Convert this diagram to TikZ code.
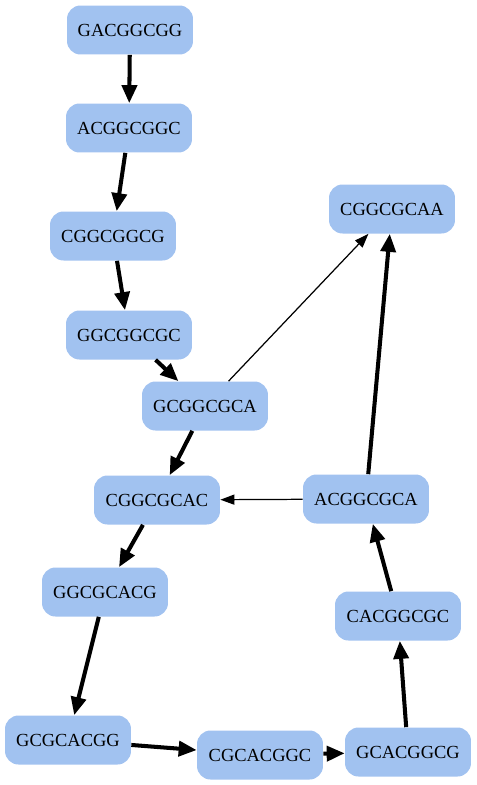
\documentclass[tikz,border=0pt]{standalone}
\usepackage{fontspec}
\setmainfont{Liberation Serif}
\usetikzlibrary{arrows.meta}
\definecolor{kmerblue}{RGB}{161,194,240}

\begin{document}
\begin{tikzpicture}[
        x=0.02cm, y=-0.02cm,
        kmer/.style={rectangle, rounded corners=0.27cm, fill=kmerblue, minimum width=2.52cm, minimum height=0.98cm, inner sep=0pt, font=\fontsize{10.5}{12}\selectfont},
        edge/.style={-{Triangle[length=0.36cm, width=0.3cm]}, line width=2.3pt},
        weak/.style={-{Triangle[length=0.28cm, width=0.2cm]}, line width=0.7pt}
    ]
        \useasboundingbox (0,0) rectangle (477,785);

        % Left chain
        \node[kmer] (n1) at (130,30) {GACGGCGG};
        \node[kmer] (n2) at (129,128) {ACGGCGGC};
        \node[kmer] (n3) at (113,236) {CGGCGGCG};
        \node[kmer] (n4) at (129,335) {GGCGGCGC};
        \node[kmer] (n5) at (205,406) {GCGGCGCA};
        \node[kmer] (n6) at (157,500) {CGGCGCAC};
        \node[kmer] (n7) at (105,592) {GGCGCACG};
        \node[kmer] (n8) at (68,740) {GCGCACGG};

        % Bottom and right side
        \node[kmer] (n9) at (260,755) {CGCACGGC};
        \node[kmer] (n10) at (408,752) {GCACGGCG};
        \node[kmer] (n11) at (398,616) {CACGGCGC};
        \node[kmer] (n12) at (366,499) {ACGGCGCA};
        \node[kmer] (n13) at (392,209) {CGGCGCAA};

        % Edges
        \draw[edge] (n1) -- (n2);
        \draw[edge] (n2) -- (n3);
        \draw[edge] (n3) -- (n4);
        \draw[edge] (n4) -- (n5);
        \draw[edge] (n5) -- (n6);
        \draw[edge] (n6) -- (n7);
        \draw[edge] (n7) -- (n8);
        \draw[edge] (n8) -- (n9);
        \draw[edge] (n9) -- (n10);
        \draw[edge] (n10) -- (n11);
        \draw[edge] (n11) -- (n12);
        \draw[edge] (n12) -- (n13);

        \draw[weak] (n5) -- (n13);
        \draw[weak] (n12) -- (n6);

    \end{tikzpicture}
\end{document}
